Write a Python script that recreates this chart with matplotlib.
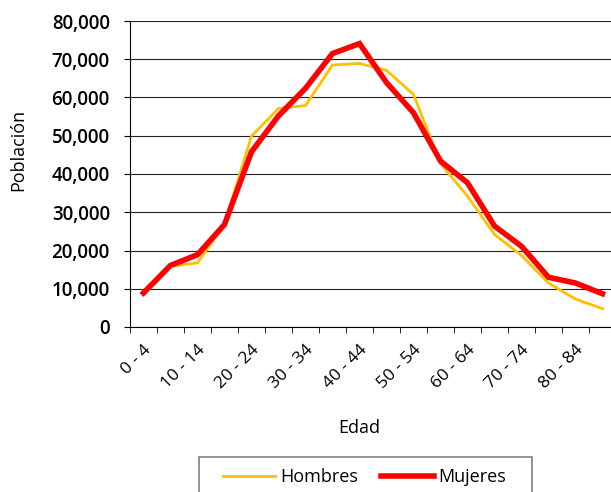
import matplotlib
matplotlib.use('Agg')
import matplotlib.pyplot as plt
from matplotlib.ticker import FuncFormatter, FixedLocator
from matplotlib.patches import Rectangle
import numpy as np

plt.rcParams['font.family'] = ['Open Sans', 'DejaVu Sans']

#%% DATA
grupos = ['0 - 4', '5 - 9', '10 - 14', '15 - 19', '20 - 24', '25 - 29', '30 - 34', '35 - 39',
          '40 - 44', '45 - 49', '50 - 54', '55 - 59', '60 - 64', '65 - 69', '70 - 74',
          '75 - 79', '80 - 84', '85 +']
hombres = [8900, 15900, 16750, 26900, 49900, 57100, 57900, 68500, 68900,
           67100, 60800, 42700, 34200, 24200, 18700, 11500, 7300, 4800]
mujeres = [8900, 16100, 18900, 26800, 45800, 55200, 62400, 71500, 74100,
           63900, 56000, 43400, 37700, 26400, 21100, 13000, 11500, 8700]
etiquetas = [g if i % 2 == 0 else '' for i, g in enumerate(grupos)]

#%% PLOT
fig = plt.figure(figsize=(6.11, 4.92), dpi=100)
ax = fig.add_axes([130/611, 1-327/492, 486/611, 306/492])

x = np.arange(len(grupos))
ax.plot(x, hombres, color='#FFC000', lw=2, label='Hombres', zorder=3)
ax.plot(x, mujeres, color='#FF0000', lw=4, label='Mujeres', zorder=4,
        solid_joinstyle='miter')

ax.set_xlim(-0.5, len(grupos) - 0.5)
ax.set_ylim(0, 80000)
ax.set_yticks(np.arange(0, 80001, 10000))
ax.yaxis.set_major_formatter(FuncFormatter(lambda v, p: '{:,.0f}'.format(v)))
ax.grid(axis='y', color='#222222', lw=0.8)
ax.set_axisbelow(True)

ax.set_xticks(x)
ax.set_xticklabels(etiquetas, rotation=45, ha='right',
                   rotation_mode='anchor', fontsize=12.5)
ax.tick_params(axis='x', which='major', length=0, pad=11)
ax.xaxis.set_minor_locator(FixedLocator(np.arange(-0.5, len(grupos), 1)))
ax.tick_params(axis='x', which='minor', length=4.5, color='black')
ax.tick_params(axis='y', length=4.5, labelsize=13.5, pad=10)
for t in ax.get_yticklabels():
    t.set_fontweight('semibold')

for s in ['top', 'right']:
    ax.spines[s].set_visible(False)
ax.spines['left'].set_color('black')
ax.spines['bottom'].set_color('black')

fig.text(359/611, 1-428/492, 'Edad', ha='center', va='center', fontsize=13)
fig.text(18/611, 1-150/492, 'Población', ha='center', va='center',
         rotation=90, fontsize=13)

# legend without frame, frame drawn by hand (it runs off the bottom)
leg = fig.legend(loc='center left', bbox_to_anchor=(223/611, 1-477/492), ncol=2,
                 fontsize=13, frameon=False, handlelength=2.9,
                 handletextpad=0.25, columnspacing=1.3, borderpad=0,
                 borderaxespad=0)
fig.patches.append(Rectangle((199/611, -0.05), 333/611, 1-457/492+0.05,
                             transform=fig.transFigure, fill=False,
                             edgecolor='#808080', lw=1.2))

fig.savefig('out.png', dpi=100)
